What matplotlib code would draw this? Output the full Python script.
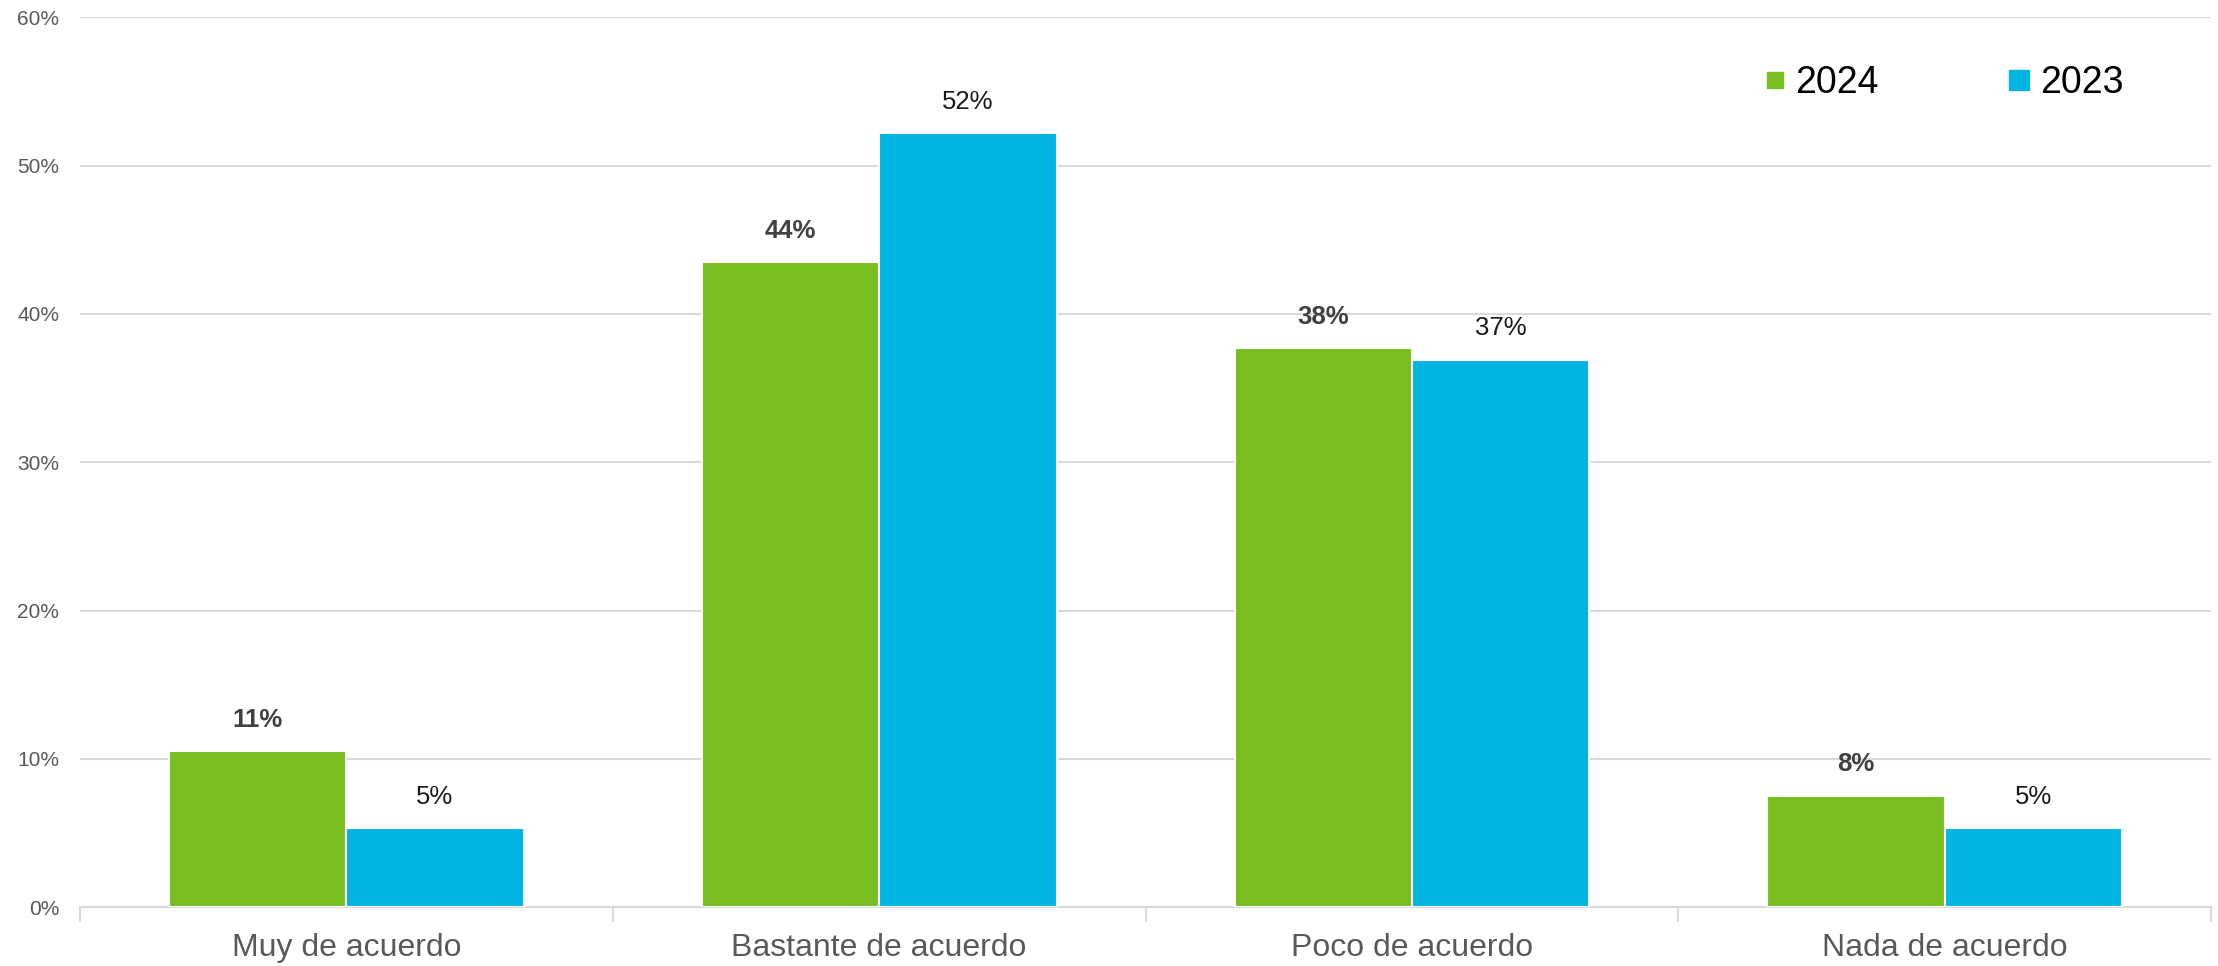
import numpy as np
import matplotlib.pyplot as plt
from matplotlib.lines import Line2D

plt.rcParams['font.family'] = ['Liberation Sans', 'DejaVu Sans']

categories = ['Muy de acuerdo', 'Bastante de acuerdo', 'Poco de acuerdo', 'Nada de acuerdo']
vals_2024 = [10.5, 43.5, 37.7, 7.5]
vals_2023 = [5.3, 52.2, 36.9, 5.3]
labels_2024 = ['11%', '44%', '38%', '8%']
labels_2023 = ['5%', '52%', '37%', '5%']

green = '#78BE20'
blue = '#00B5E2'
grid_col = '#D9D9D9'

fig = plt.figure(figsize=(22.18, 9.66), dpi=100)
ax = fig.add_axes([0.036, 0.061, 0.961, 0.921])

x = np.arange(len(categories))
w = 0.333
b1 = ax.bar(x - w/2, vals_2024, w, color=green, edgecolor='white', linewidth=1.5, zorder=3)
b2 = ax.bar(x + w/2, vals_2023, w, color=blue, edgecolor='white', linewidth=1.5, zorder=3)

# data labels
for rect, lab in zip(b1, labels_2024):
    ax.annotate(lab, (rect.get_x() + rect.get_width()/2, rect.get_height()),
                xytext=(0, 14), textcoords='offset points', ha='center', va='bottom',
                fontsize=18.5, fontweight='bold', color='#404040')
for rect, lab in zip(b2, labels_2023):
    ax.annotate(lab, (rect.get_x() + rect.get_width()/2, rect.get_height()),
                xytext=(0, 14), textcoords='offset points', ha='center', va='bottom',
                fontsize=18.5, color='#1A1A1A')

ax.set_ylim(0, 60)
ax.set_xlim(-0.5, 3.5)
ax.set_yticks(np.arange(0, 61, 10))
ax.set_yticklabels([f'{v}%' for v in range(0, 61, 10)], fontsize=15, color='#595959')
ax.yaxis.grid(True, color=grid_col, linewidth=1.5, zorder=0)
ax.tick_params(axis='y', length=0, pad=15)

# category labels at centers, ticks at boundaries
ax.set_xticks(x)
ax.set_xticklabels(categories, fontsize=23, color='#595959')
ax.set_xticks(np.arange(-0.5, 4, 1), minor=True)
ax.tick_params(axis='x', which='major', length=0, pad=19)
ax.tick_params(axis='x', which='minor', length=11, width=1.5, color=grid_col)

for s in ['top', 'right', 'left']:
    ax.spines[s].set_visible(False)
ax.spines['bottom'].set_color(grid_col)
ax.spines['bottom'].set_linewidth(1.5)

handles = [Line2D([], [], marker='s', linestyle='none', color=green, markersize=11),
           Line2D([], [], marker='s', linestyle='none', color=blue, markersize=14)]
fig.legend(handles, ['2024', '2023'], loc='center left', bbox_to_anchor=(0.795, 0.914),
           ncol=2, frameon=False, fontsize=27, handlelength=0.6, handletextpad=0.25,
           columnspacing=3.45, borderpad=0, borderaxespad=0)

plt.savefig('out.png', dpi=100)
